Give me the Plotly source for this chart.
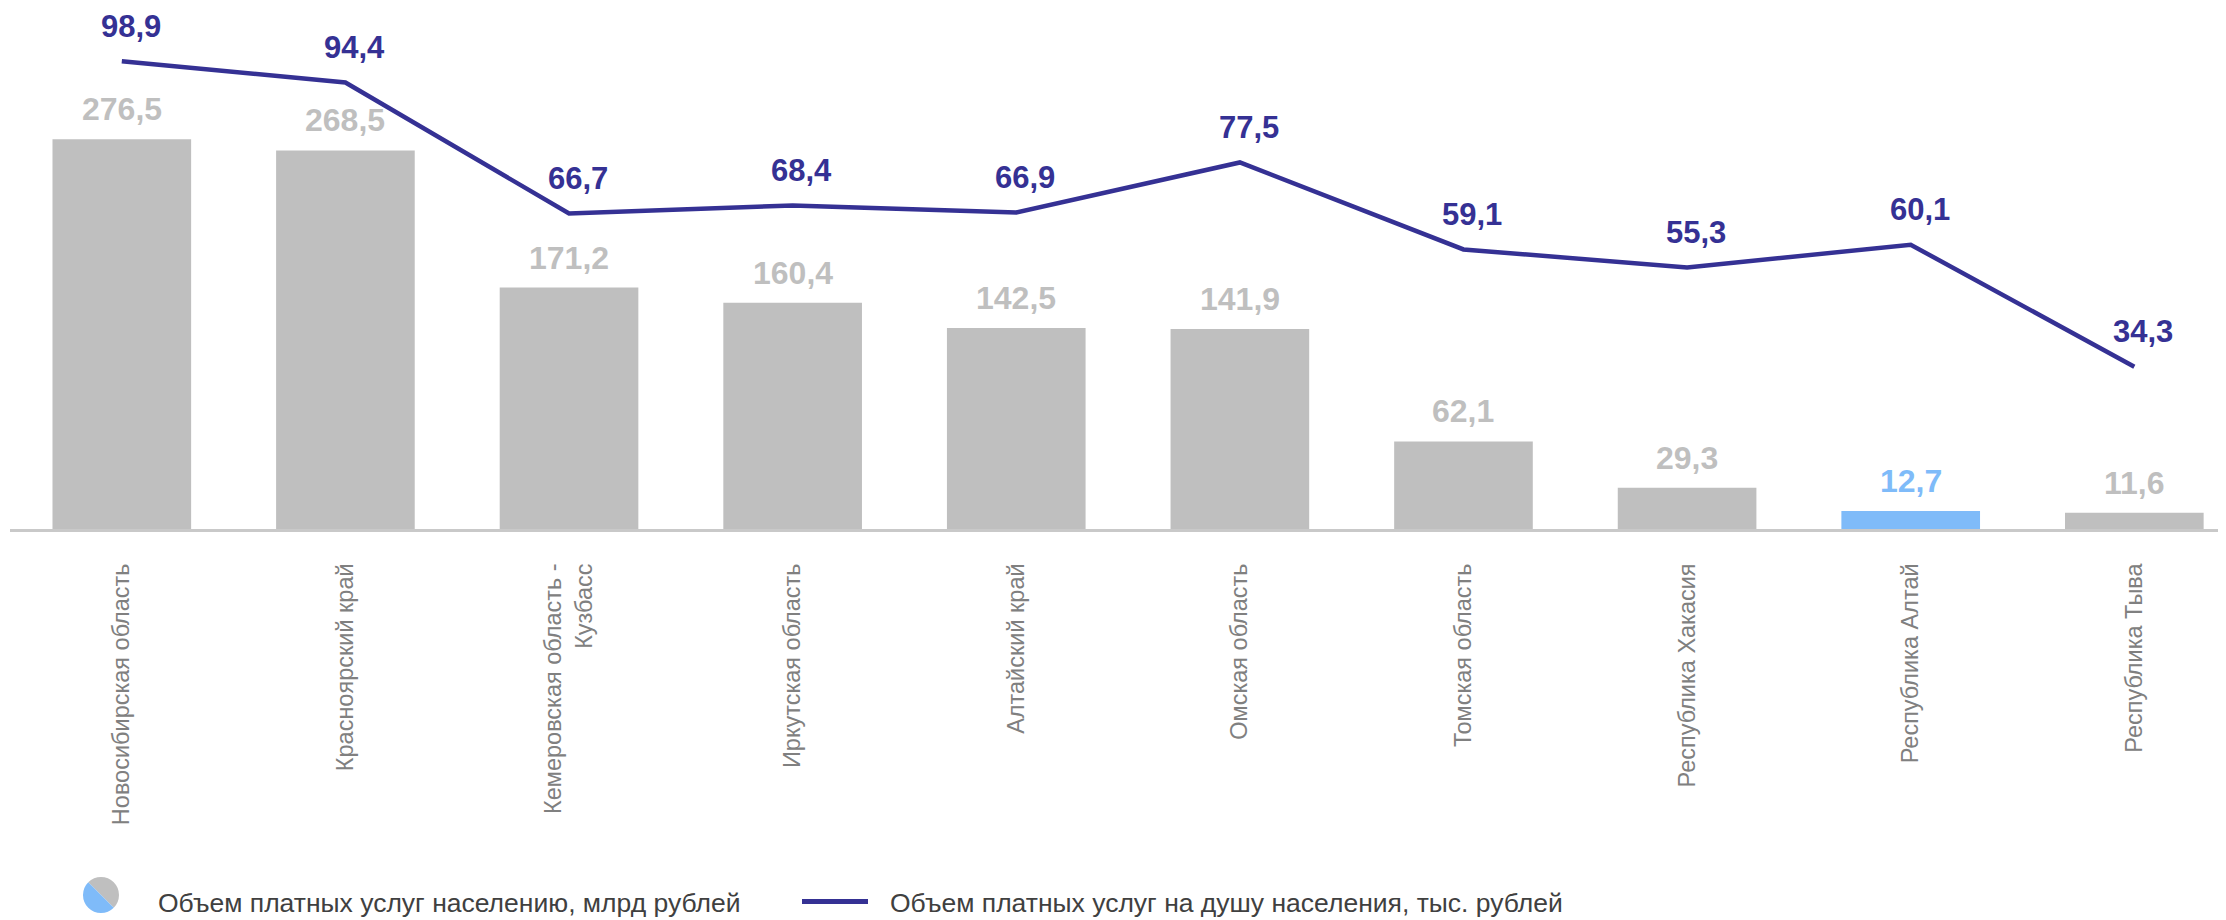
import plotly.graph_objects as go

# ---------------- data ----------------
regions = [
    "Новосибирская область",
    "Красноярский край",
    "Кемеровская область -<br>Кузбасс",
    "Иркутская область",
    "Алтайский край",
    "Омская область",
    "Томская область",
    "Республика Хакасия",
    "Республика Алтай",
    "Республика Тыва",
]
volume_bln_rub = [276.5, 268.5, 171.2, 160.4, 142.5, 141.9, 62.1, 29.3, 12.7, 11.6]
per_capita_thous_rub = [98.9, 94.4, 66.7, 68.4, 66.9, 77.5, 59.1, 55.3, 60.1, 34.3]
highlight_region = "Республика Алтай"
legend_bar_label = "Объем платных услуг населению, млрд рублей"
legend_line_label = "Объем платных услуг на душу населения, тыс. рублей"
legend_icon_shares = [1, 1]

# ---------------- style ----------------
OFF = 8  # default page body margin
W, H = 2226 - OFF, 920 - OFF
ML, MR, MT, MB = 2, 0, 12, 0
FONT = "Liberation Sans, Arial, sans-serif"
GRAY = "#bfbfbf"
BLUE = "#7fbbf9"
LINE = "#353194"
AXIS = "#c9c9c9"
TICK = "#808080"
TEXT = "#404040"

axis_px = 529 - OFF
plot_area_h = H - MT - MB
y_domain_bottom = (H - axis_px) / plot_area_h
plot_h = axis_px - MT
y1_top = plot_h / 1.41
y2_top = plot_h / 4.73


def px2x(px):
    # px: screenshot x
    return (px - OFF - ML) / (W - ML - MR)


def py2y(py):
    # py: screenshot y
    return (H - (py - OFF)) / plot_area_h


def fmt(v):
    return f"{v:.1f}".replace(".", ",")


bar_colors = [BLUE if r == highlight_region else GRAY for r in regions]

fig = go.Figure()
fig.add_trace(go.Bar(
    x=regions, y=volume_bln_rub, marker=dict(color=bar_colors, line=dict(width=0)),
    name=legend_bar_label, showlegend=False, yaxis="y", hoverinfo="x+y",
))
fig.add_trace(go.Scatter(
    x=regions, y=per_capita_thous_rub, mode="lines", yaxis="y2",
    line=dict(color=LINE, width=4.5), name=legend_line_label, showlegend=False,
))

annotations = []
for r, v, c in zip(regions, volume_bln_rub, bar_colors):
    annotations.append(dict(
        x=r, y=v, xref="x", yref="y", text=fmt(v), showarrow=False,
        yanchor="middle", yshift=30,
        font=dict(family=FONT, size=32, color=c, weight="bold"),
    ))
for r, v in zip(regions, per_capita_thous_rub):
    annotations.append(dict(
        x=r, y=v, xref="x", yref="y2", text=fmt(v), showarrow=False,
        yanchor="middle", yshift=35, xshift=9,
        font=dict(family=FONT, size=31, color=LINE, weight="bold"),
    ))

# legend (manual)
icon_cx, icon_cy, icon_r = 101, 895, 18
fig.add_trace(go.Pie(
    values=legend_icon_shares, marker=dict(colors=[GRAY, BLUE], line=dict(width=0)),
    domain=dict(x=[px2x(icon_cx - icon_r), px2x(icon_cx + icon_r)],
                y=[py2y(icon_cy + icon_r), py2y(icon_cy - icon_r)]),
    sort=False, direction="clockwise", rotation=-45, textinfo="none",
    hoverinfo="skip", showlegend=False,
))
annotations.append(dict(
    x=px2x(156), y=py2y(903), xref="paper", yref="paper", xanchor="left", yanchor="middle",
    text=legend_bar_label, showarrow=False, font=dict(family=FONT, size=26.5, color=TEXT),
))
annotations.append(dict(
    x=px2x(888), y=py2y(903), xref="paper", yref="paper", xanchor="left", yanchor="middle",
    text=legend_line_label, showarrow=False, font=dict(family=FONT, size=26.5, color=TEXT),
))
shapes = [dict(
    type="line", xref="paper", yref="paper",
    x0=px2x(802), x1=px2x(868), y0=py2y(901.5), y1=py2y(901.5),
    line=dict(color=LINE, width=5),
)]

fig.update_layout(
    width=W, height=H,
    margin=dict(l=ML, r=MR, t=MT, b=MB),
    paper_bgcolor="white", plot_bgcolor="white",
    bargap=0.38,
    showlegend=False,
    font=dict(family=FONT),
    xaxis=dict(
        type="category", range=[-0.5, 9.41], showgrid=False, zeroline=False,
        showline=True, linecolor=AXIS, linewidth=3, ticks="",
        tickangle=-90, tickfont=dict(family=FONT, size=23.5, color=TICK),
        ticklabelstandoff=22, anchor="y",
    ),
    yaxis=dict(
        domain=[y_domain_bottom, 1], range=[0, y1_top], visible=False,
        showgrid=False, zeroline=False,
    ),
    yaxis2=dict(
        domain=[y_domain_bottom, 1], range=[0, y2_top], overlaying="y", visible=False,
        showgrid=False, zeroline=False, anchor="x",
    ),
    annotations=annotations,
    shapes=shapes,
)

fig.write_html("out.html")
